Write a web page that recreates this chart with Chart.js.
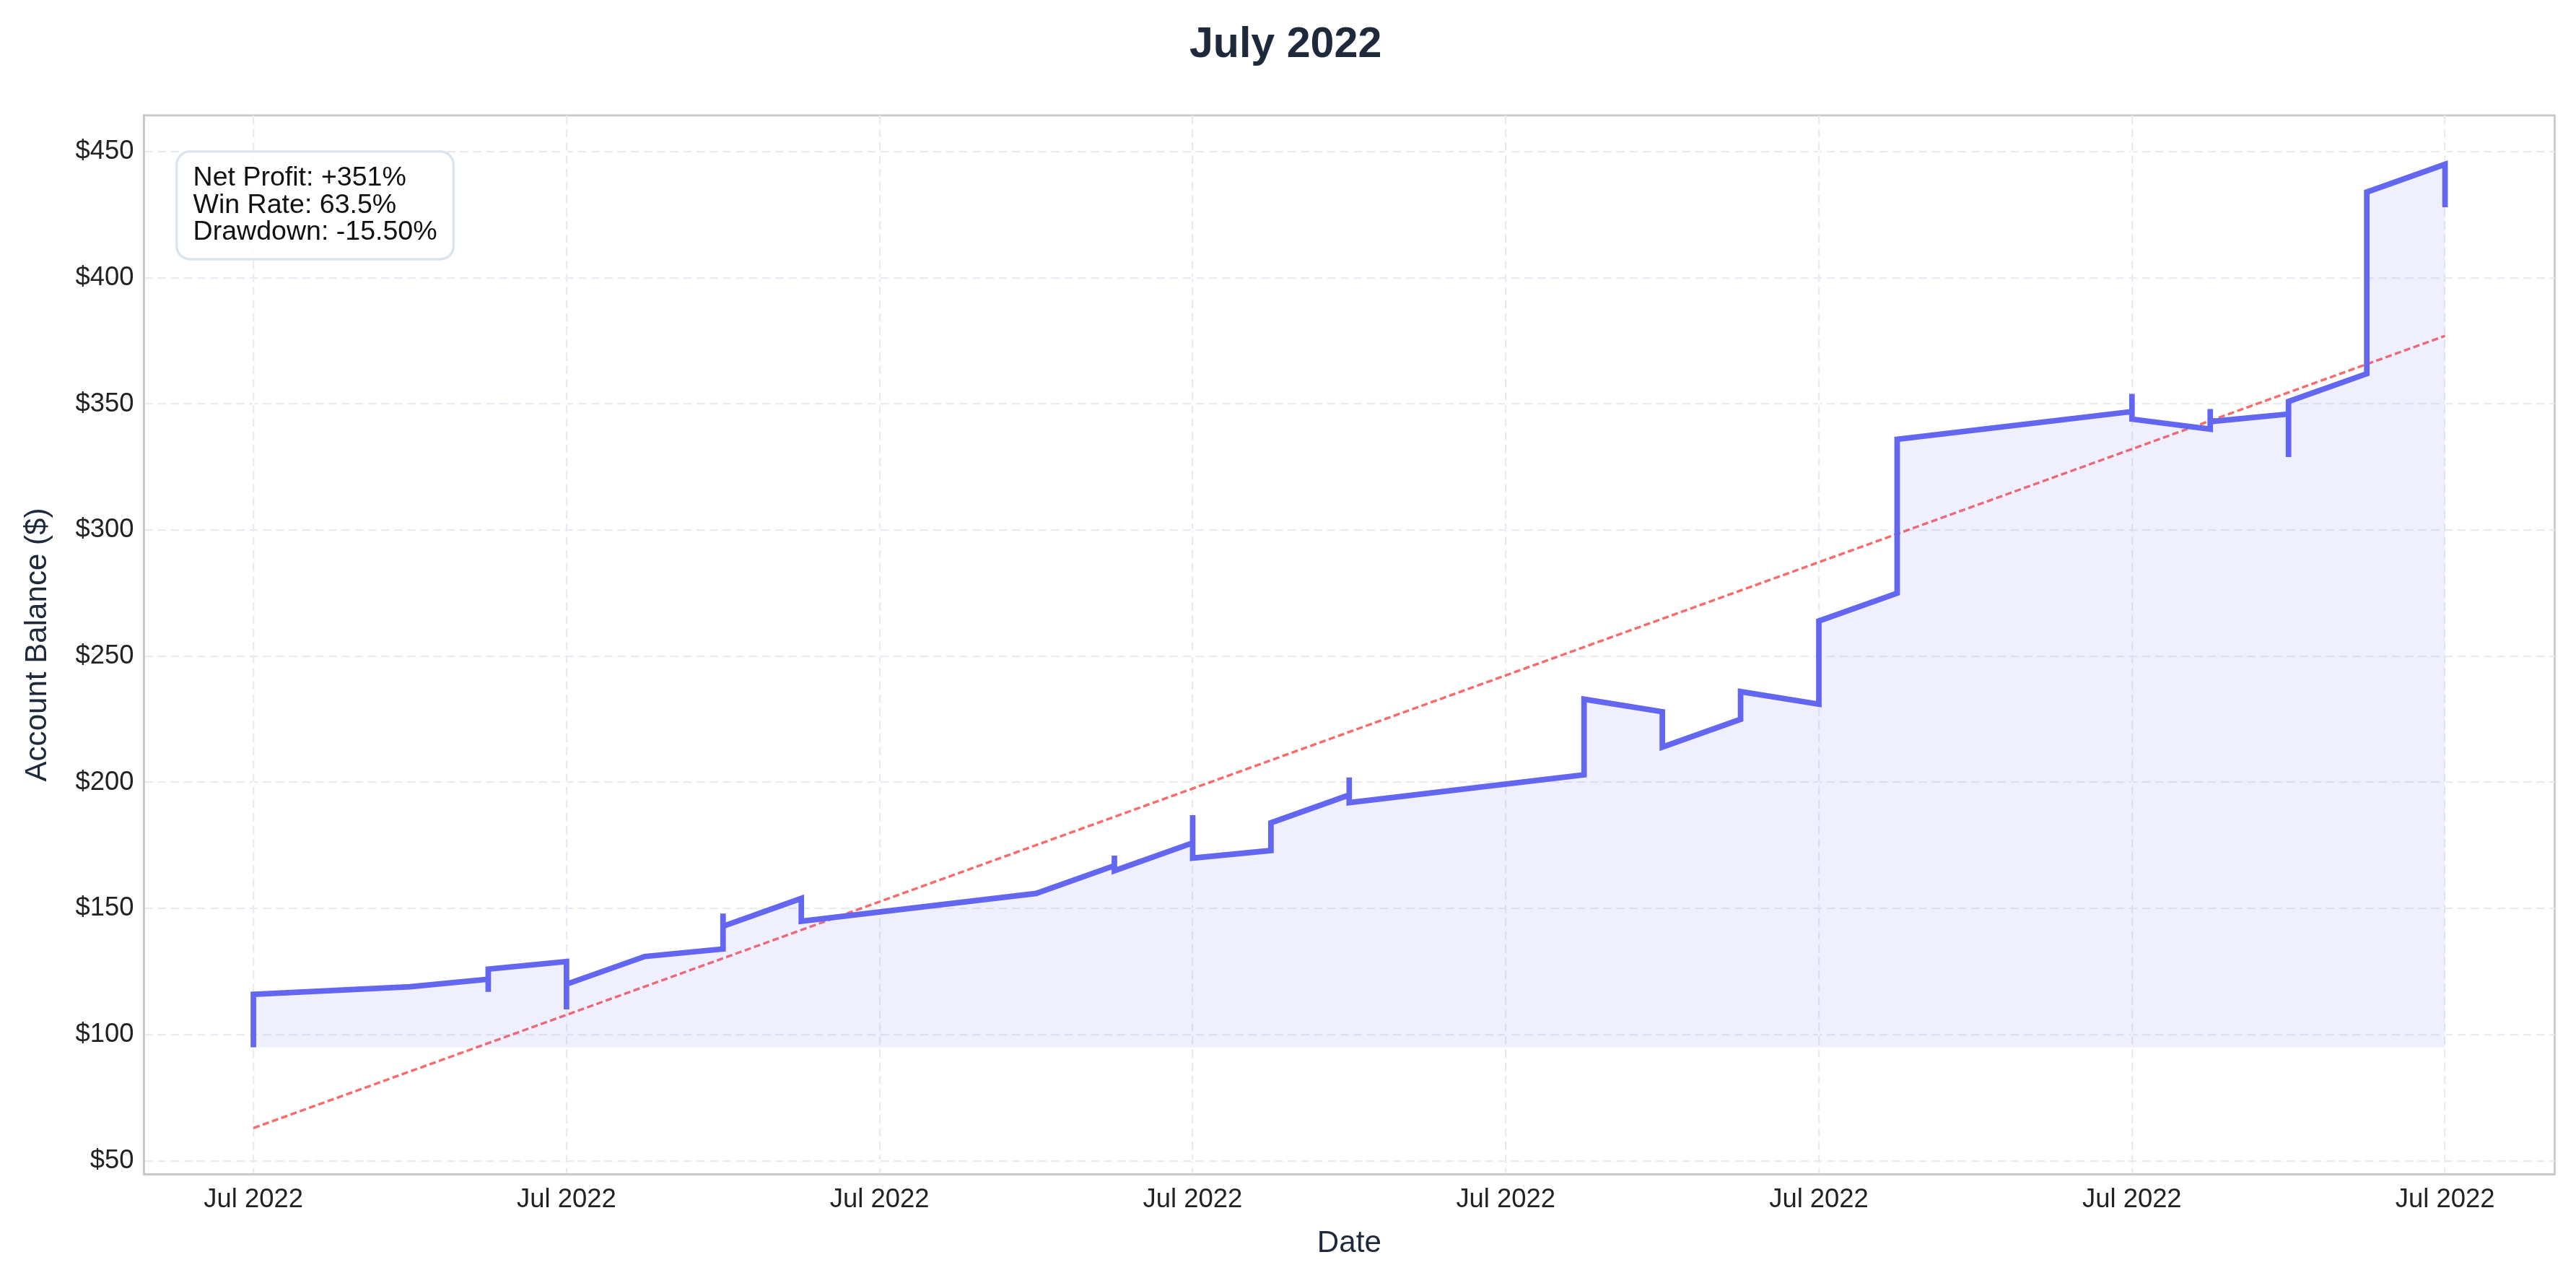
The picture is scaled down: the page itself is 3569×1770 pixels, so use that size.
<!DOCTYPE html>
<html>
<head>
<meta charset="utf-8">
<script src="https://cdn.jsdelivr.net/npm/chart.js"></script>
<style>
	html, body { margin: 0; padding: 0; background: #ffffff; }
	#wrap { width: 3569px; height: 1770px; }
</style>
</head>
<body>
<div id="wrap"><canvas id="equityChart" width="3569" height="1770"></canvas></div>
<script>
// Time position in days into July (tick positions 0..7), balance in $
const tradeDays = [0, 0, 0.5, 0.75, 0.75, 0.75, 1, 1, 1, 1.25, 1.5, 1.5, 1.5, 1.75, 1.75, 2.5, 2.75, 2.75, 2.75,
	3, 3, 3, 3.25, 3.25, 3.5, 3.5, 3.5, 4.25, 4.25, 4.5, 4.5, 4.75, 4.75, 5, 5, 5.25, 5.25,
	6, 6, 6, 6.25, 6.25, 6.25, 6.5, 6.5, 6.5, 6.75, 6.75, 6.75, 7, 7];
const balances = [95, 116, 119, 122, 117, 126, 129, 110, 120, 131, 134, 148, 143, 154, 145, 156, 167, 171, 165,
	176, 187, 170, 173, 184, 195, 202, 192, 203, 233, 228, 214, 225, 236, 231, 264, 275, 336,
	347, 354, 344, 340, 348, 343, 346, 329, 351, 362, 382, 434, 445, 428];
const trendStart = 63;
const trendEnd = 377;
const tickDays = [0, 1, 2, 3, 4, 5, 6, 7];
const tickLabel = "Jul 2022";
const statLines = ["Net Profit: +351%", "Win Rate: 63.5%", "Drawdown: -15.50%"];

const S = 2.276;
const fontName = "'Liberation Sans', Arial, sans-serif";

const equityPoints = tradeDays.map((d, i) => ({ x: d, y: balances[i] }));
const trendPoints = [
	{ x: tradeDays[0], y: trendStart },
	{ x: tradeDays[tradeDays.length - 1], y: trendEnd },
];

// Stats box in the top-left corner of the plot
const statsBox = {
	id: "statsBox",
	afterDraw(chart) {
		const ctx = chart.ctx;
		const area = chart.chartArea;
		const fs = 16.5 * S;
		const lh = fs * 1.0;
		ctx.save();
		ctx.font = fs + "px " + fontName;
		const w = Math.max(...statLines.map(t => ctx.measureText(t).width)) + 20 * S;
		const h = lh * statLines.length + 16 * S;
		const x = area.left + 20 * S;
		const y = area.top + 22 * S;
		ctx.beginPath();
		ctx.roundRect(x, y, w, h, 8 * S);
		ctx.fillStyle = "rgba(255,255,255,0.9)";
		ctx.fill();
		ctx.lineWidth = 1.5 * S;
		ctx.strokeStyle = "#dbe3ee";
		ctx.stroke();
		ctx.fillStyle = "#111111";
		ctx.textBaseline = "top";
		statLines.forEach((t, i) => ctx.fillText(t, x + 10 * S, y + 8 * S + i * lh));
		ctx.restore();
	},
};

const ctx = document.getElementById("equityChart").getContext("2d");
new Chart(ctx, {
	type: "scatter",
	data: {
		datasets: [
			{
				label: "Balance",
				data: equityPoints,
				showLine: true,
				borderColor: "#6366f1",
				borderWidth: 3.4 * S,
				backgroundColor: "rgba(99,102,241,0.1)",
				fill: { value: balances[0] },
				pointRadius: 0,
				tension: 0,
			},
			{
				label: "Trend",
				data: trendPoints,
				showLine: true,
				borderColor: "rgba(248,80,80,0.85)",
				borderWidth: 1.5 * S,
				borderDash: [4 * S, 2 * S],
				pointRadius: 0,
				fill: false,
			},
		],
	},
	options: {
		responsive: false,
		animation: false,
		devicePixelRatio: 1,
		layout: { padding: { left: 10 * S, right: 13 * S, top: 6 * S, bottom: 8 * S } },
		plugins: {
			legend: { display: false },
			tooltip: { enabled: false },
			title: {
				display: true,
				text: "July 2022",
				color: "#1e293b",
				font: { family: fontName, size: 26 * S, weight: "bold" },
				padding: { top: 6 * S, bottom: 27 * S },
			},
		},
		scales: {
			x: {
				type: "linear",
				min: -0.35,
				max: 7.35,
				afterBuildTicks: (axis) => { axis.ticks = tickDays.map(v => ({ value: v })); },
				ticks: {
					callback: () => tickLabel,
					color: "#222222",
					font: { family: fontName, size: 16 * S },
					padding: 6 * S,
				},
				grid: { color: "#e8ecf2", lineWidth: 1 * S, tickLength: 0 },
				border: { color: "#c8c8c8", width: 1.2 * S, dash: [] },
				title: {
					display: true,
					text: "Date",
					color: "#1e293b",
					font: { family: fontName, size: 18.5 * S },
					padding: { top: 0 },
				},
			},
			y: {
				min: 44.7,
				max: 464.4,
				afterBuildTicks: (axis) => { axis.ticks = [50, 100, 150, 200, 250, 300, 350, 400, 450].map(v => ({ value: v })); },
				ticks: {
					callback: (v) => "$" + v,
					color: "#222222",
					font: { family: fontName, size: 16 * S },
					padding: 6 * S,
				},
				grid: { color: "#e8ecf2", lineWidth: 1 * S, tickLength: 0 },
				border: { color: "#c8c8c8", width: 1.2 * S },
				title: {
					display: true,
					text: "Account Balance ($)",
					color: "#1e293b",
					font: { family: fontName, size: 18.5 * S },
					padding: { bottom: 6 * S },
				},
			},
		},
	},
	plugins: [statsBox, {
		id: "frame",
		beforeDraw(chart) {
			const a = chart.chartArea;
			chart.ctx.save();
			chart.ctx.strokeStyle = "#c8c8c8";
			chart.ctx.lineWidth = 1.2 * S;
			chart.ctx.strokeRect(a.left, a.top, a.right - a.left, a.bottom - a.top);
			chart.ctx.restore();
		},
		beforeDatasetsDraw(chart) {
			// dashed grid look
			const a = chart.chartArea;
			const c = chart.ctx;
			c.save();
			c.strokeStyle = "#ffffff";
			c.lineWidth = 1.2 * S;
			c.setLineDash([3 * S, 5 * S]);
			c.lineDashOffset = -5 * S;
			chart.scales.x.ticks.forEach(t => {
				const px = chart.scales.x.getPixelForValue(t.value);
				c.beginPath(); c.moveTo(px, a.top + 1); c.lineTo(px, a.bottom - 1); c.stroke();
			});
			chart.scales.y.ticks.forEach(t => {
				const py = chart.scales.y.getPixelForValue(t.value);
				c.beginPath(); c.moveTo(a.left + 1, py); c.lineTo(a.right - 1, py); c.stroke();
			});
			c.restore();
		},
	}],
});
</script>
</body>
</html>
